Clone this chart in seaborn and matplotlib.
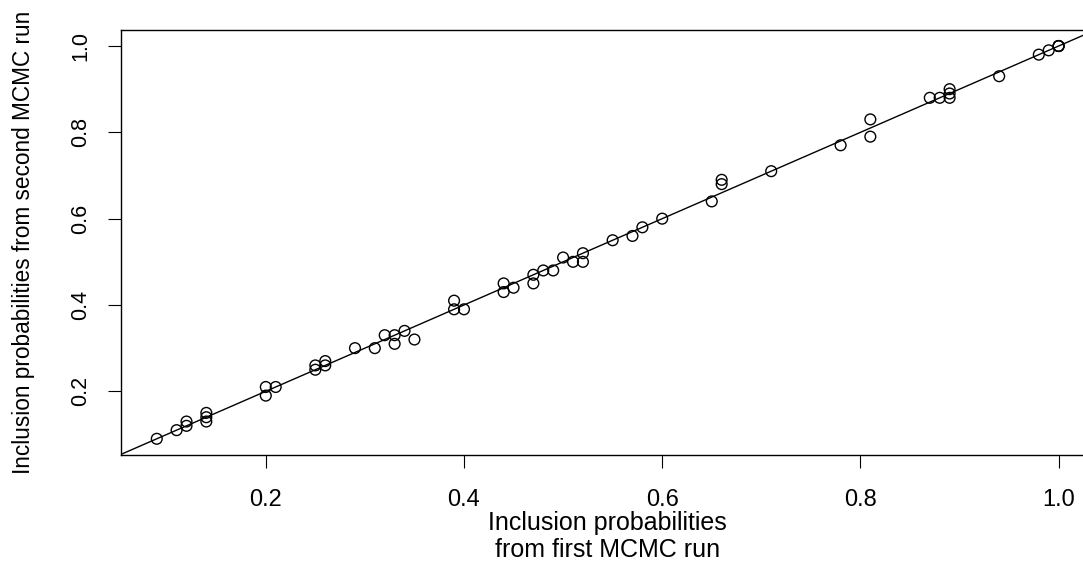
import matplotlib
matplotlib.use("Agg")
import matplotlib.pyplot as plt
import seaborn as sns
import pandas as pd

first_run = [0.09, 0.11, 0.12, 0.12, 0.14, 0.14, 0.14, 0.20, 0.20, 0.21,
             0.25, 0.25, 0.26, 0.26, 0.29, 0.31, 0.32, 0.33, 0.33, 0.34,
             0.35, 0.39, 0.39, 0.40, 0.44, 0.44, 0.45, 0.47, 0.47, 0.48,
             0.49, 0.50, 0.51, 0.52, 0.52, 0.55, 0.57, 0.58, 0.60, 0.65,
             0.66, 0.66, 0.71, 0.78, 0.81, 0.81, 0.87, 0.88, 0.89, 0.89,
             0.89, 0.94, 0.98, 0.99, 1.00, 1.00, 1.00]
second_run = [0.09, 0.11, 0.13, 0.12, 0.15, 0.14, 0.13, 0.21, 0.19, 0.21,
              0.26, 0.25, 0.27, 0.26, 0.30, 0.30, 0.33, 0.33, 0.31, 0.34,
              0.32, 0.41, 0.39, 0.39, 0.45, 0.43, 0.44, 0.47, 0.45, 0.48,
              0.48, 0.51, 0.50, 0.52, 0.50, 0.55, 0.56, 0.58, 0.60, 0.64,
              0.69, 0.68, 0.71, 0.77, 0.83, 0.79, 0.88, 0.88, 0.90, 0.89,
              0.88, 0.93, 0.98, 0.99, 1.00, 1.00, 1.00]
tick_values = [0.2, 0.4, 0.6, 0.8, 1.0]
tick_labels = ["0.2", "0.4", "0.6", "0.8", "1.0"]

df = pd.DataFrame({"first": first_run, "second": second_run})

sns.set_style("white")
plt.rcParams["font.family"] = ["Liberation Sans", "DejaVu Sans"]
plt.rcParams["text.color"] = "black"
plt.rcParams["axes.labelcolor"] = "black"

W, H = 1083, 561
fig = plt.figure(figsize=(W / 100, H / 100), dpi=100)
left, right, top, bottom = 120.7, 1094.7, 30.3, 454.5
ax = fig.add_axes([left / W, 1 - bottom / H, (right - left) / W, (bottom - top) / H])

sns.scatterplot(data=df, x="first", y="second", ax=ax, marker="o",
                s=60, facecolor="none", edgecolor="black", linewidth=1.0,
                legend=False, zorder=3)
ax.axline((0, 0), slope=1, color="black", linewidth=1.0, zorder=2)

xr = max(first_run) - min(first_run)
yr = max(second_run) - min(second_run)
ax.set_xlim(min(first_run) - 0.04 * xr, max(first_run) + 0.04 * xr)
ax.set_ylim(min(second_run) - 0.04 * yr, max(second_run) + 0.04 * yr)

ax.set_xticks(tick_values)
ax.set_xticklabels(tick_labels)
ax.set_yticks(tick_values)
ax.set_yticklabels(tick_labels, rotation=90, va="center")

ax.tick_params(axis="both", which="major", direction="out", length=9.7,
               width=0.8, color="black", bottom=True, left=True,
               labelcolor="black")
ax.tick_params(axis="x", labelsize=17, pad=15)
ax.tick_params(axis="y", labelsize=15.5, pad=11.5)

for side in ["left", "bottom", "top", "right"]:
    ax.spines[side].set_visible(True)
    ax.spines[side].set_color("black")
    ax.spines[side].set_linewidth(1.0)

ax.set_xlabel("Inclusion probabilities\nfrom first MCMC run", fontsize=18,
              linespacing=1.2, color="black")
ax.xaxis.label.set_va("center")
ax.xaxis.set_label_coords(0.5, (bottom - 536.5) / (bottom - top))

ax.set_ylabel("Inclusion probabilities from second MCMC run", fontsize=16.3,
              color="black")
ax.yaxis.label.set_va("center")
ax.yaxis.set_label_coords((24 - left) / (right - left), 0.5)

ax.grid(False)
fig.savefig("out.png", dpi=100)
